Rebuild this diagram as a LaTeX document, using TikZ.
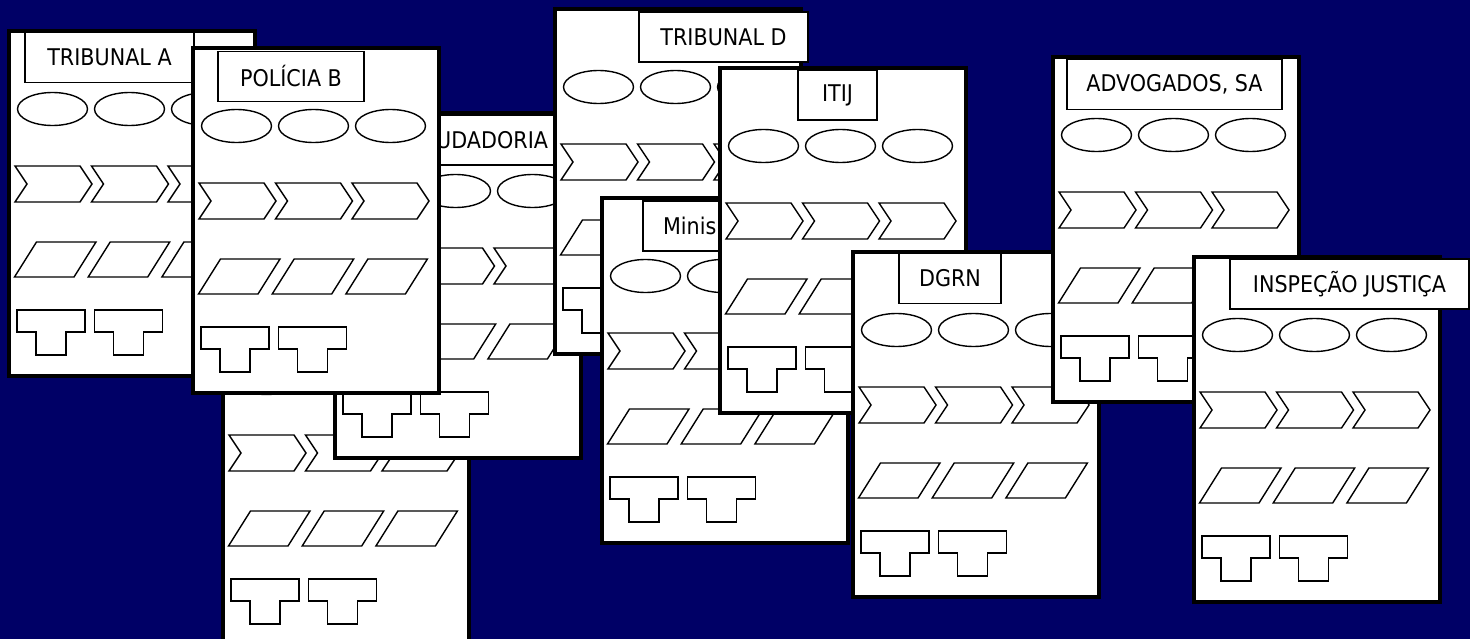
\documentclass[tikz,border=0pt]{standalone}
\usepackage{fontspec}
\setmainfont{DejaVu Sans}[FakeStretch=0.9]
\usepackage{tikz}
\definecolor{navy}{RGB}{0,0,102}

\newcommand{\cardoval}[1]{\draw[part] (43.5+#1,78) ellipse [x radius=35pt, y radius=16.5pt];}
\newcommand{\cardchev}[1]{\draw[part,shift={(#1,0)}] (6,135) -- (71,135) -- (83,153) -- (71,171) -- (6,171) -- (18,153) -- cycle;}
\newcommand{\cardpara}[1]{\draw[part,shift={(#1,0)}] (5.5,246) -- (27.5,211) -- (87,211) -- (65,246) -- cycle;}
\newcommand{\cardtee}[1]{\draw[part,shift={(#1,0)}] (8,279) -- (76,279) -- (76,301) -- (57,301) -- (57,324) -- (27,324) -- (27,301) -- (8,301) -- cycle;}
\newcommand{\cardbody}{%
\draw[cardframe] (0,0) rectangle (246,345);
\cardoval{0} \cardoval{77} \cardoval{154}
\cardchev{0} \cardchev{76.5} \cardchev{153}
\cardpara{0} \cardpara{73.7} \cardpara{147.4}
\cardtee{0} \cardtee{77.5}
}

\begin{document}
\begin{tikzpicture}[x=1pt,y=-1pt,
cardframe/.style={draw=black,fill=white,line width=4.5pt},
part/.style={draw=black,line width=1.4pt},
titlebox/.style={draw=black,fill=white,line width=1.5pt,minimum height=50,inner sep=0pt,font=\fontsize{23}{27}\selectfont}]

\fill[navy] (0,0) rectangle (1470,639);
\useasboundingbox (0,0) rectangle (1470,639);

\begin{scope}[shift={(9,31)}]
\cardbody
\node[titlebox,minimum width=169] (ta) at (100.5,26.5) {TRIBUNAL A};
\end{scope}

\begin{scope}[shift={(223,300)}]
\cardbody
\end{scope}

\begin{scope}[shift={(335,113)}]
\cardbody
\node[titlebox,inner xsep=12pt,text width=116pt,align=right] (pr) at (155,27) {UDADORIA};
\end{scope}

\begin{scope}[shift={(193,48)}]
\cardbody
\node[titlebox,minimum width=146] (pb) at (98,28.5) {POLÍCIA B};
\end{scope}

\begin{scope}[shift={(555,9)}]
\cardbody
\node[titlebox,minimum width=169] (td) at (168.5,28) {TRIBUNAL D};
\end{scope}

\begin{scope}[shift={(602,198)}]
\cardbody
\node[titlebox,inner xsep=20pt,text width=117pt,align=left] (mp) at (119.5,28) {Minis};
\end{scope}

\begin{scope}[shift={(720,68)}]
\cardbody
\node[titlebox,minimum width=79] (it) at (117.5,27) {ITIJ};
\end{scope}

\begin{scope}[shift={(853,252)}]
\cardbody
\node[titlebox,minimum width=102] (dg) at (97,26.5) {DGRN};
\end{scope}

\begin{scope}[shift={(1053,57)}]
\cardbody
\node[titlebox,minimum width=215] (ad) at (121.5,27.5) {ADVOGADOS, SA};
\end{scope}

\begin{scope}[shift={(1194,257)}]
\cardbody
\node[titlebox,minimum width=239] (ij) at (155.5,27) {INSPEÇÃO JUSTIÇA};
\end{scope}

\end{tikzpicture}
\end{document}
